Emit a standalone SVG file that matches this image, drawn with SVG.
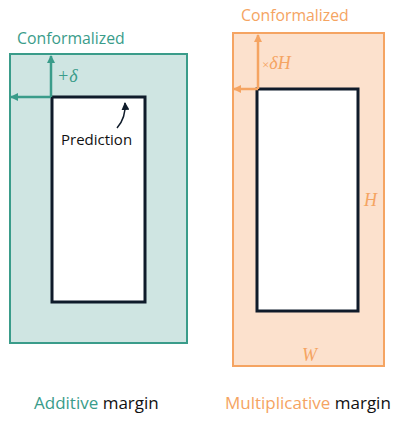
<svg xmlns="http://www.w3.org/2000/svg" width="415" height="426" viewBox="0 0 415 426">
<style>
.t{font-family:"Open Sans","Noto Sans",sans-serif;font-size:15px}
.c{font-size:15.8px}
.b{font-size:17px}
.m{font-family:"Liberation Serif",serif;font-style:italic;font-size:18px}
.g{fill:#3a9c8a}
.o{fill:#f5a462}
.k{fill:#111}
.pred{fill:#fff;stroke:#0f1b2a;stroke-width:3}
</style>
<defs>
<marker id="ag" markerWidth="8" markerHeight="8" refX="7" refY="4" orient="auto" markerUnits="userSpaceOnUse"><path d="M0,0 L8,4 L0,8 Z" fill="#3a9c8a"/></marker>
<marker id="ao" markerWidth="8" markerHeight="8" refX="7" refY="4" orient="auto" markerUnits="userSpaceOnUse"><path d="M0,0 L8,4 L0,8 Z" fill="#f5a462"/></marker>
<marker id="ak" markerWidth="8" markerHeight="8" refX="7" refY="4" orient="auto" markerUnits="userSpaceOnUse"><path d="M0,0 L8,4 L0,8 Z" fill="#0f1b2a"/></marker>
</defs>
<g id="additive">
<rect x="10" y="54" width="177" height="289" fill="#cfe5e2" stroke="#3a9c8a" stroke-width="2"/>
<rect class="pred" x="52" y="97" width="93" height="205"/>
<text class="t c g" x="17" y="44">Conformalized</text>
<text class="m g" x="57" y="82">+δ</text>
<text class="t k" x="61" y="145">Prediction</text>
</g>
<g id="multiplicative">
<rect x="233" y="33" width="151" height="333" fill="#fce1cd" stroke="#f5a462" stroke-width="2"/>
<rect class="pred" x="257" y="89" width="101" height="222"/>
<text class="t c o" x="241" y="21">Conformalized</text>
<text class="m o" x="262" y="69"><tspan font-style="normal" font-size="13">×</tspan>δH</text>
<text class="m o" x="364" y="206">H</text>
<text class="m o" x="302" y="361">W</text>
</g>
<g id="connectors" fill="none">
<path d="M51,97 V56" stroke="#3a9c8a" stroke-width="2.5" marker-end="url(#ag)"/>
<path d="M51,97 H11" stroke="#3a9c8a" stroke-width="2.5" marker-end="url(#ag)"/>
<path d="M258,89 V35" stroke="#f5a462" stroke-width="2.5" marker-end="url(#ao)"/>
<path d="M258,89 H234" stroke="#f5a462" stroke-width="2.5" marker-end="url(#ao)"/>
<path d="M117,128 Q126,118 125,103" stroke="#0f1b2a" stroke-width="1.5" marker-end="url(#ak)"/>
</g>
<g id="labels">
<text class="t b" x="34" y="409"><tspan class="g">Additive</tspan> <tspan class="k">margin</tspan></text>
<text class="t b" x="225" y="409"><tspan class="o">Multiplicative</tspan> <tspan class="k">margin</tspan></text>
</g>
</svg>
